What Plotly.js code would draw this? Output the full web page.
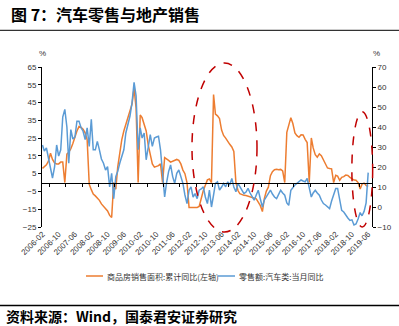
<!DOCTYPE html>
<html><head><meta charset="utf-8">
<script src="https://cdn.plot.ly/plotly-3.0.1.min.js"></script>
<style>html,body{margin:0;padding:0;background:#fff}#c{width:399px;height:326px}</style>
</head><body><div id="c"></div>
<script>
// 商品房销售面积:累计同比 (左轴), monthly from 2006-02 to 2019-06
const housingArea = [
  8, 9, 10, 12, 16.5, 13, 11, 10.5, 10.5, 11.5, 11.5,                 // 2006 Feb-Dec
  0, 16, 17, 19, 22, 26, 29, 31.5, 31, 30, 28, 24,                     // 2007
  -1, -4, -6.5, -7.5, -8.5, -10, -12, -13.5, -14.5, -16, -18.5, -19.7, // 2008
  0, -3.8, 8.5, 17, 24, 29, 33, 37, 40, 44, 53, 42,                    // 2009
  0, 38, 36.5, 33, 29, 21, 15, 10.5, 8.7, 9, 9.5, 10.5,                // 2010
  0, 14, 13.5, 12.5, 11.5, 12, 12.5, 13, 12.5, 10.5, 7, 5,             // 2011
  0, -14, -14, -14, -14, -14, -13.5, -8.5, -4.5, -1.5, 1.5, 2,         // 2012
  0, 49.5, 38.5, 37.5, 36, 29.5, 26.5, 25, 23, 21.5, 20, 17.5,         // 2013
  0, -4.5, -6.3, -7, -7.2, -7.3, -7.6, -8, -8.3, -8.7, -9.2, -11,      // 2014
  -13, -16.3, -9.2, -4.8, -2.6, 3.9, 6.1, 7.2, 7.5, 7.2, 7.4, 6.5,     // 2015
  0, 28.2, 33.1, 36.5, 33.2, 27.9, 26.4, 25.5, 26.9, 26.8, 24.3, 22.5, // 2016
  0, 25.1, 19.5, 15.7, 14.3, 16.1, 15.1, 12.7, 10.3, 8.2, 7.9, 7.7,    // 2017
  0, 4.1, 3.6, 1.3, 2.9, 3.3, 4.2, 4.0, 2.9, 2.2, 1.4, 1.3,            // 2018
  0, -3.6, -0.9, -0.3, -1.6, -2.2                                      // 2019 Jan-Jun
];
// 零售额:汽车类:当月同比 (右轴), monthly from 2006-02 to 2019-06
const autoRetail = [
  31, 28, 29.5, 24.5, 19.5, 14.5, 20, 31, 25.5, 28.6, 45,              // 2006 Feb-Dec
  48.8, 40, 21.9, 38.7, 34, 35, 42.9, 42.9, 39.6, 37.9, 33.7, 39.6,    // 2007
  30.3, 43.8, 28.6, 28.6, 32.8, 28.6, 24, 21.9, 18.5, 20.2, 10.1, 16.8,// 2008
  4.2, 15.2, 17.7, 21.9, 25, 28.6, 37, 41, 45.5, 52, 62.3, 55.6,       // 2009
  28.6, 39.6, 34.5, 37, 23.6, 30, 36.2, 30.3, 34.5, 35, 35.4, 28.6,    // 2010
  16, 5, 12, 17.7, 21, 15.2, 11.8, 16.8, 18.5, 15.2, 11.8, 6,          // 2011
  1.7, 8.4, 10.1, 5, 6.7, 4.2, 8.4, 9, 10.1, 5, 1.7, 8.4,              // 2012
  0, 6, 11.8, 12.6, 8.4, 10, 11.8, 10.1, 12.6, 11, 14.3, 10,           // 2013
  7.6, 11.8, 10, 8.4, 6.7, 7.5, 9.3, 7, 5, 3.4, 6, 8.4,                // 2014
  4, 0, 3.4, 5, 6.7, 8.4, 6.5, 5, 4.2, 6, 8.4, 7,                      // 2015
  5.9, 2, 0.8, 8.4, 10, 11, 11.8, 12.5, 13.5, 13, 12.6, 14.3,          // 2016
  10.1, 5, 7, 8.4, 7, 5.9, 3.5, 1.7, 1, 0, -0.8, 3,                    // 2017
  6.7, 9.3, 9.3, 3.4, -1.7, -2.5, -4.2, -5.5, -6.7, -6.4, -9, -8.5,    // 2018
  -6, -2.8, -4.4, -2.2, 2.1, 17.2                                      // 2019 Jan-Jun
];
const seriesNames = ['商品房销售面积:累计同比(左轴)', '零售额:汽车类:当月同比'];
const startYear = 2006, startMonth = 2;

const months = housingArea.map((_, i) => {
  const d = new Date(Date.UTC(startYear, startMonth - 1 + i, 1));
  return d.toISOString().slice(0, 10);
});

const ORANGE = '#ED7D31', BLUE = '#5B9BD5', RED = '#C00000';
const tickFont = {family: 'Liberation Sans, Arial, sans-serif', size: 8, color: '#333'};
const cjk = 'Noto Sans CJK SC, sans-serif';
const xr = ['2006-01-25', '2019-07-28'];

const traces = [
  // carrier for the zero-line category axis (invisible)
  {x: months, y: housingArea, type: 'scatter', mode: 'lines', hoverinfo: 'skip',
   line: {color: 'rgba(0,0,0,0)', width: 0}, xaxis: 'x2', yaxis: 'y', showlegend: false},
  {x: months, y: housingArea, type: 'scatter', mode: 'lines', name: seriesNames[0],
   line: {color: ORANGE, width: 1.5}, xaxis: 'x', yaxis: 'y'},
  {x: months, y: autoRetail, type: 'scatter', mode: 'lines', name: seriesNames[1],
   line: {color: BLUE, width: 1.5}, xaxis: 'x', yaxis: 'y2'}
];

const layout = {
  width: 399, height: 326,
  margin: {l: 42, r: 27, t: 67, b: 99},
  paper_bgcolor: '#fff', plot_bgcolor: '#fff',
  showlegend: false,
  xaxis: {type: 'date', range: xr, tick0: '2006-02-01', dtick: 'M8', tickformat: '%Y-%m',
          tickangle: -45, showline: false, ticks: '', showgrid: false, zeroline: false,
          tickfont: tickFont},
  xaxis2: {type: 'date', range: xr, tick0: '2006-05-15', dtick: 'M8', overlaying: 'x',
           anchor: 'free', position: 25/90, showline: true, linecolor: '#000', linewidth: 1,
           ticks: 'outside', ticklen: 3, tickcolor: '#000', showticklabels: false,
           showgrid: false, zeroline: false},
  yaxis: {range: [-25, 65], tick0: -25, dtick: 10, showline: true, linecolor: '#000',
          linewidth: 1, ticks: 'outside', ticklen: 3, tickcolor: '#000', showgrid: false,
          zeroline: false, tickfont: tickFont},
  yaxis2: {range: [-10, 70], tick0: -10, dtick: 10, overlaying: 'y', side: 'right',
           showline: true, linecolor: '#000', linewidth: 1, ticks: 'outside', ticklen: 3,
           tickcolor: '#000', showgrid: false, zeroline: false, tickfont: tickFont},
  shapes: [
    {type: 'circle', xref: 'paper', yref: 'paper', x0: 0.4545, x1: 0.6515, y0: -0.031, y1: 1.025,
     line: {color: RED, width: 1.5, dash: 'dash'}, layer: 'above'},
    {type: 'circle', xref: 'paper', yref: 'paper', x0: 0.939, x1: 1.002, y0: 0.0, y1: 0.72,
     line: {color: RED, width: 1.5, dash: 'dash'}, layer: 'above'},
    // legend line samples
    {type: 'line', xref: 'paper', yref: 'paper', x0: (86-42)/330, x1: (103-42)/330,
     y0: (227-276)/160, y1: (227-276)/160, line: {color: ORANGE, width: 1.5}},
    {type: 'line', xref: 'paper', yref: 'paper', x0: (218-42)/330, x1: (235-42)/330,
     y0: (227-276)/160, y1: (227-276)/160, line: {color: BLUE, width: 1.5}},
    // header rule
    {type: 'line', xref: 'paper', yref: 'paper', x0: -42/330, x1: 357/330,
     y0: (227-30.3)/160, y1: (227-30.3)/160, line: {color: '#000', width: 1}},
    // footer rule
    {type: 'line', xref: 'paper', yref: 'paper', x0: -42/330, x1: 357/330,
     y0: (227-305.5)/160, y1: (227-305.5)/160, line: {color: '#000', width: 1.5}}
  ],
  annotations: [
    {text: '<b>图 7：汽车零售与地产销售</b>', xref: 'paper', yref: 'paper',
     x: (9-42)/330, y: (227-14)/160, xanchor: 'left', yanchor: 'middle', showarrow: false,
     font: {family: cjk, size: 16, color: '#000'}},
    {text: '%', xref: 'paper', yref: 'paper', x: 0, y: (227-54)/160, xanchor: 'center',
     yanchor: 'middle', showarrow: false, font: {family: 'Liberation Sans, sans-serif', size: 8, color: '#333'}},
    {text: '%', xref: 'paper', yref: 'paper', x: (376-42)/330, y: (227-54)/160, xanchor: 'center',
     yanchor: 'middle', showarrow: false, font: {family: 'Liberation Sans, sans-serif', size: 8, color: '#333'}},
    {text: seriesNames[0], xref: 'paper', yref: 'paper', x: (105-42)/330, y: (227-276)/160,
     xanchor: 'left', yanchor: 'middle', showarrow: false, font: {family: cjk, size: 8, color: '#333'}},
    {text: seriesNames[1], xref: 'paper', yref: 'paper', x: (237-42)/330, y: (227-276)/160,
     xanchor: 'left', yanchor: 'middle', showarrow: false, font: {family: cjk, size: 8, color: '#333'}},
    {text: '<b>资料来源：Wind，国泰君安证券研究</b>', xref: 'paper', yref: 'paper',
     x: (4-42)/330, y: (227-316)/160, xanchor: 'left', yanchor: 'middle', showarrow: false,
     font: {family: cjk, size: 14, color: '#000'}}
  ]
};

Plotly.newPlot('c', traces, layout, {staticPlot: true, displayModeBar: false});
</script></body></html>
